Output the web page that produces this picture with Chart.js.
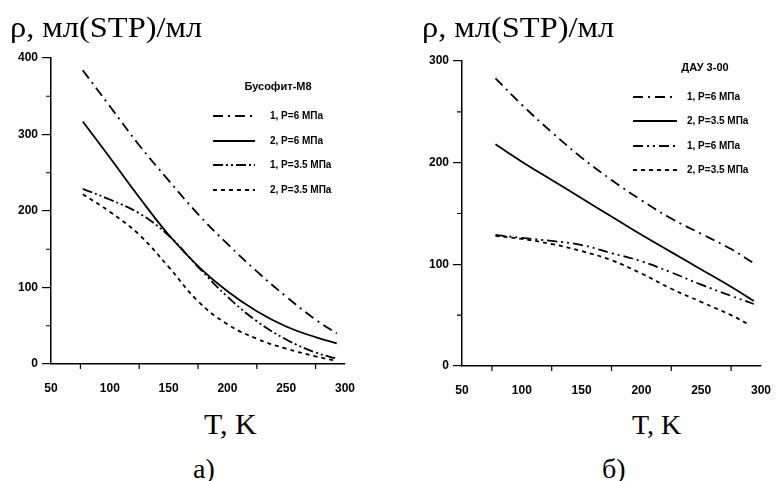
<!DOCTYPE html>
<html>
<head>
<meta charset="utf-8">
<script src="https://cdn.jsdelivr.net/npm/chart.js@4.4.0/dist/chart.umd.min.js"></script>
<style>
  body { margin: 0; background: #fff; width: 779px; height: 481px; position: relative; overflow: hidden; }
  canvas { position: absolute; top: 0; }
  .lbl { position: absolute; font-family: "Liberation Serif", "Times New Roman", "DejaVu Serif", serif; color: #000; white-space: nowrap; line-height: 1; transform-origin: 0 0; }
</style>
</head>
<body>
<canvas id="chartA" width="390" height="400" style="left:0"></canvas>
<canvas id="chartB" width="389" height="400" style="left:390px"></canvas>
<div class="lbl" style="left:10px;top:12px;font-size:30px;transform:scaleX(1.08)">ρ, мл(STP)/мл</div>
<div class="lbl" style="left:422px;top:12px;font-size:30px;transform:scaleX(1.08)">ρ, мл(STP)/мл</div>
<div class="lbl" style="left:204px;top:409px;font-size:30px">T, K</div>
<div class="lbl" style="left:632px;top:411px;font-size:28px">T, K</div>
<div class="lbl" style="left:193px;top:455px;font-size:28px">a)</div>
<div class="lbl" style="left:602px;top:455px;font-size:28px">б)</div>
<script>
// panel a) Бусофит-М8
const tempA = [77, 100, 125, 150, 175, 200, 225, 250, 275, 293];
const tempA4 = [77, 100, 125, 150, 175, 200, 225, 250, 275, 290];
const rhoA1 = [384, 337, 286, 240, 196, 157, 121, 88, 58, 40];
const rhoA2 = [317, 270, 218, 169, 128, 95, 69, 49, 35, 27];
const rhoA3 = [229, 215, 197, 168, 127, 88, 56, 32, 15, 7];
const rhoA4 = [222, 199, 169, 127, 82, 52, 33, 20, 10, 5];
const labelsA = ['1, P=6 МПа', '2, P=6 МПа', '1, P=3.5 МПа', '2, P=3.5 МПа'];

// panel б) ДАУ 3-00
const tempB = [78, 100, 125, 150, 175, 200, 225, 250, 275, 294];
const tempB4 = [78, 100, 125, 150, 175, 200, 225, 250, 275, 288];
const rhoB1 = [283, 257, 230, 205, 183, 163, 145, 130, 115, 101];
const rhoB2 = [218, 201, 183, 165, 147, 129, 112, 95, 78, 64];
const rhoB3 = [129, 126, 123, 119, 111, 103, 92, 80, 69, 61];
const rhoB4 = [128, 125, 120, 113, 104, 91, 76, 63, 50, 42];
const labelsB = ['1, P=6 МПа', '2, P=3.5 МПа', '1, P=6 МПа', '2, P=3.5 МПа'];

const xTicks = [50, 100, 150, 200, 250, 300];
const xMinor = [75, 125, 175, 225, 275];

function pts(t, r) {
  return t.map((v, i) => ({x: v, y: r[i]}));
}

// legend drawn inside the plot + minor ticks
const extras = {
  id: 'extras',
  afterDraw(chart, args, o) {
    const ctx = chart.ctx;
    const xs = chart.scales.x, ys = chart.scales.y;
    ctx.save();
    ctx.strokeStyle = '#000';
    ctx.lineWidth = 1.2;
    ctx.beginPath();
    o.minorX.forEach(v => {
      const px = xs.getPixelForValue(v);
      ctx.moveTo(px, xs.top); ctx.lineTo(px, xs.top + 5);
    });
    o.minorY.forEach(v => {
      const py = ys.getPixelForValue(v);
      ctx.moveTo(ys.right, py); ctx.lineTo(ys.right - 5, py);
    });
    ctx.stroke();

    ctx.fillStyle = '#000';
    ctx.font = 'bold 11px "Liberation Sans", Arial, sans-serif';
    ctx.textAlign = 'center';
    ctx.textBaseline = 'middle';
    ctx.fillText(o.title, o.titleX, o.titleY);
    ctx.font = 'bold 10px "Liberation Sans", Arial, sans-serif';
    ctx.textAlign = 'left';
    chart.data.datasets.forEach((ds, i) => {
      const y = o.rows[i];
      ctx.setLineDash(ds.borderDash || []);
      ctx.lineWidth = ds.borderWidth;
      ctx.beginPath();
      ctx.moveTo(o.x0, y); ctx.lineTo(o.x1, y);
      ctx.stroke();
      ctx.setLineDash([]);
      ctx.fillText(ds.label, o.tx, y);
    });
    ctx.restore();
  }
};

function makeChart(id, sets, yMax, box, key) {
  const tickFont = {family: '"Liberation Sans", Arial, sans-serif', size: 12, weight: 'bold'};
  return new Chart(document.getElementById(id), {
    type: 'line',
    data: {
      datasets: sets.map(s => ({
        label: s.label,
        data: s.data,
        borderColor: '#000',
        borderWidth: 1.8,
        borderDash: s.dash,
        pointRadius: 0,
        fill: false,
        tension: 0.4
      }))
    },
    options: {
      responsive: false,
      animation: false,
      layout: {padding: {left: 0, right: box.right, top: box.top, bottom: 0}},
      plugins: {legend: {display: false}, tooltip: {enabled: false}, extras: key},
      scales: {
        x: {
          type: 'linear', min: 50, max: 300,
          afterBuildTicks: s => { s.ticks = xTicks.map(v => ({value: v})); },
          afterFit: s => { s.height = box.xh; },
          grid: {display: false, drawOnChartArea: false, drawTicks: true, tickLength: 9, color: '#000', lineWidth: 1.2},
          border: {color: '#000', width: 1.5},
          ticks: {color: '#000', font: tickFont, padding: 8, maxRotation: 0}
        },
        y: {
          min: 0, max: yMax,
          ticks: {stepSize: 100, color: '#000', font: tickFont, padding: 4},
          afterFit: s => { s.width = box.yw; },
          grid: {display: true, drawOnChartArea: false, drawTicks: true, tickLength: 9, color: '#000', lineWidth: 1.2},
          border: {color: '#000', width: 1.5}
        }
      }
    },
    plugins: [extras]
  });
}

makeChart('chartA', [
  {label: labelsA[0], data: pts(tempA, rhoA1), dash: [10, 5, 2, 5]},
  {label: labelsA[1], data: pts(tempA, rhoA2), dash: []},
  {label: labelsA[2], data: pts(tempA, rhoA3), dash: [10, 3, 2, 3, 2, 3]},
  {label: labelsA[3], data: pts(tempA4, rhoA4), dash: [4, 4]}
], 400, {right: 45, top: 58, xh: 36, yw: 51}, {
  title: 'Бусофит-М8', titleX: 278, titleY: 87,
  x0: 213, x1: 255, tx: 270, rows: [116, 141, 165, 190],
  minorX: xMinor, minorY: [50, 150, 250, 350]
});

makeChart('chartB', [
  {label: labelsB[0], data: pts(tempB, rhoB1), dash: [10, 5, 2, 5]},
  {label: labelsB[1], data: pts(tempB, rhoB2), dash: []},
  {label: labelsB[2], data: pts(tempB, rhoB3), dash: [10, 4, 2, 4, 2, 4]},
  {label: labelsB[3], data: pts(tempB4, rhoB4), dash: [4, 4]}
], 300, {right: 17, top: 61, xh: 34, yw: 72}, {
  title: 'ДАУ 3-00', titleX: 315, titleY: 68,
  x0: 243, x1: 287, tx: 297, rows: [97, 121, 146, 170],
  minorX: xMinor, minorY: [50, 150, 250]
});
</script>
</body>
</html>
